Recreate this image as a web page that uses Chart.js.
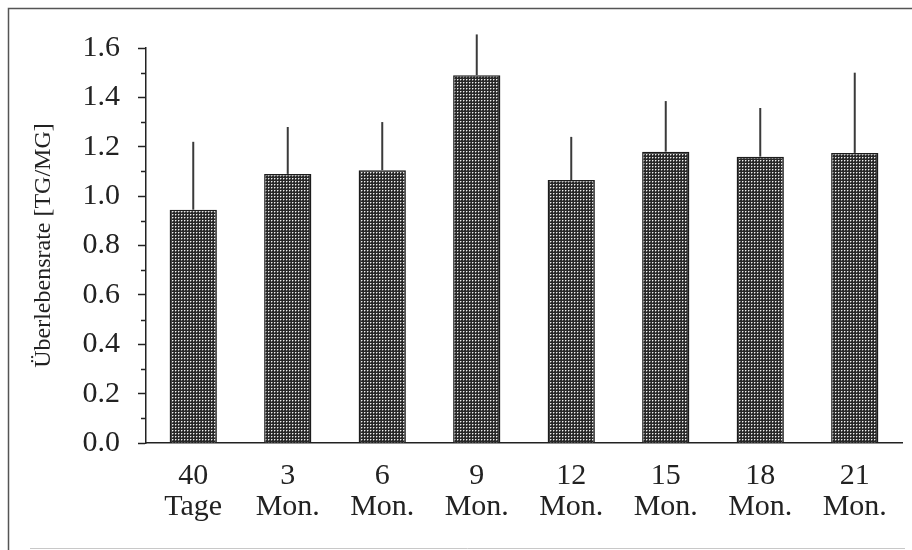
<!DOCTYPE html>
<html>
<head>
<meta charset="utf-8">
<script src="https://cdn.jsdelivr.net/npm/chart.js@4/dist/chart.umd.min.js"></script>
<style>
  html, body { margin: 0; padding: 0; background: #fff; }
  canvas { display: block; }
</style>
</head>
<body>
<canvas id="c" width="912" height="550"></canvas>
<script>
// Survival rate (TG/MG) per examination time, mean with upward SD
const categories = [["40", "Tage"], ["3", "Mon."], ["6", "Mon."], ["9", "Mon."],
                    ["12", "Mon."], ["15", "Mon."], ["18", "Mon."], ["21", "Mon."]];
const rates  = [0.945, 1.09, 1.105, 1.49, 1.065, 1.18, 1.16, 1.175];
const errors = [0.275, 0.19, 0.195, 0.165, 0.175, 0.205, 0.197, 0.325];
const yTitle = "Überlebensrate [TG/MG]";

const INK = "#222";
const SERIF = "'Liberation Serif', 'Times New Roman', serif";

// dotted halftone fill for the bars
function makeDotPattern() {
  const t = document.createElement("canvas");
  t.width = 3; t.height = 3;
  const g = t.getContext("2d");
  g.fillStyle = "#282828";
  g.fillRect(0, 0, 3, 3);
  g.fillStyle = "#7a7a7a";
  g.fillRect(1, 2, 1, 1);
  g.fillRect(2, 1, 1, 1);
  g.fillStyle = "#f0f0f0";
  g.fillRect(1, 1, 1, 1);
  return document.getElementById("c").getContext("2d").createPattern(t, "repeat");
}

// outer frame around the figure
const framePlugin = {
  id: "frame",
  beforeDraw(chart) {
    const ctx = chart.ctx;
    ctx.save();
    ctx.strokeStyle = "#555";
    ctx.lineWidth = 1.5;
    ctx.beginPath();
    ctx.moveTo(8.5, 550);
    ctx.lineTo(8.5, 8.5);
    ctx.lineTo(912, 8.5);
    ctx.stroke();
    ctx.strokeStyle = "#c8c8c8";
    ctx.lineWidth = 1;
    ctx.beginPath();
    ctx.moveTo(30, 548.5);
    ctx.lineTo(905, 548.5);
    ctx.stroke();
    ctx.restore();
  }
};

// upward error whiskers (no caps)
const errorBarPlugin = {
  id: "errorBars",
  afterDatasetsDraw(chart) {
    const ctx = chart.ctx;
    const y = chart.scales.y;
    const meta = chart.getDatasetMeta(0);
    ctx.save();
    ctx.strokeStyle = "#3a3a3a";
    ctx.lineWidth = 2;
    meta.data.forEach((bar, i) => {
      const top = y.getPixelForValue(rates[i] + errors[i]);
      ctx.beginPath();
      ctx.moveTo(bar.x, bar.y);
      ctx.lineTo(bar.x, top);
      ctx.stroke();
    });
    ctx.restore();
  }
};

// short minor ticks between the labelled ones
const minorTickPlugin = {
  id: "minorTicks",
  afterDraw(chart) {
    const ctx = chart.ctx;
    const y = chart.scales.y;
    const x0 = chart.chartArea.left;
    ctx.save();
    ctx.strokeStyle = INK;
    ctx.lineWidth = 1.5;
    for (let k = 1; k < 16; k += 2) {
      const py = Math.round(y.getPixelForValue(k / 10)) + 0.5;
      ctx.beginPath();
      ctx.moveTo(x0 - 5, py);
      ctx.lineTo(x0, py);
      ctx.stroke();
    }
    ctx.restore();
  }
};

new Chart(document.getElementById("c"), {
  type: "bar",
  data: {
    labels: categories,
    datasets: [{
      data: rates,
      backgroundColor: makeDotPattern(),
      borderColor: "#1c1c1c",
      borderWidth: 1.5,
      barPercentage: 0.5,
      categoryPercentage: 1.0
    }]
  },
  options: {
    responsive: false,
    animation: false,
    events: [],
    layout: { padding: { top: 48, right: 10, bottom: 0, left: 0 } },
    plugins: {
      legend: { display: false },
      tooltip: { enabled: false }
    },
    scales: {
      x: {
        offset: true,
        grid: { display: false, drawTicks: false },
        border: { display: true, color: INK, width: 1.5 },
        ticks: {
          color: INK,
          padding: 18,
          maxRotation: 0,
          autoSkip: false,
          font: { family: SERIF, size: 30, lineHeight: 1.03 }
        },
        afterFit(scale) { scale.height = 107; }
      },
      y: {
        min: 0,
        max: 1.6,
        grid: {
          drawOnChartArea: false,
          drawTicks: true,
          tickLength: 8,
          tickWidth: 1.5,
          tickColor: INK
        },
        border: { display: true, color: INK, width: 1.5 },
        ticks: {
          stepSize: 0.2,
          color: INK,
          padding: 18,
          font: { family: SERIF, size: 30 },
          callback: (v) => Number(v).toFixed(1)
        },
        title: {
          display: true,
          text: yTitle,
          color: INK,
          padding: { top: 29, bottom: 0 },
          font: { family: SERIF, size: 24, lineHeight: 1.2 }
        },
        afterFit(scale) { scale.width = 146; }
      }
    }
  },
  plugins: [framePlugin, errorBarPlugin, minorTickPlugin]
});
</script>
</body>
</html>
